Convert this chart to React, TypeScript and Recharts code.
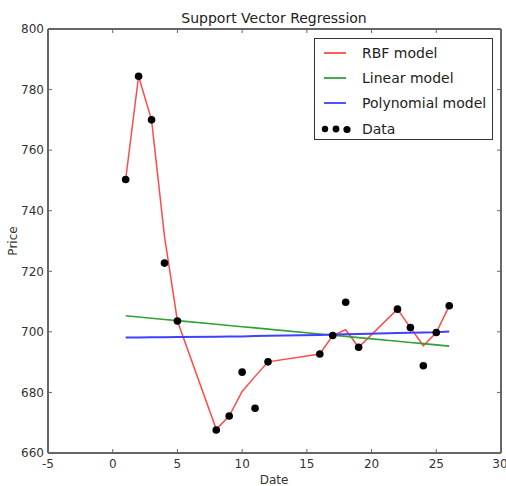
import {
  ComposedChart,
  Line,
  Scatter,
  XAxis,
  YAxis,
  Legend,
} from 'recharts';

// dates (x) and observed prices
const dates = [1, 2, 3, 4, 5, 8, 9, 10, 11, 12, 16, 17, 18, 19, 22, 23, 24, 25, 26];
const prices = [
  750.3, 784.4, 770.0, 722.7, 703.6, 667.6, 672.2, 686.7, 674.8, 690.1,
  692.7, 698.8, 709.8, 694.9, 707.5, 701.4, 688.8, 699.8, 708.6,
];
// model predictions at each date
const rbfModel = [
  750.3, 784.4, 770.0, 731.5, 703.6, 667.8, 672.2, 680.3, 685.3, 690.1,
  692.7, 698.8, 700.7, 694.9, 707.5, 701.4, 695.4, 699.8, 708.6,
];
const linearModel = [
  705.3, 704.9, 704.5, 704.1, 703.7, 702.5, 702.1, 701.7, 701.3, 700.9,
  699.3, 698.9, 698.5, 698.1, 696.9, 696.5, 696.1, 695.7, 695.3,
];
const polyModel = [
  698.1, 698.1, 698.2, 698.2, 698.3, 698.4, 698.5, 698.5, 698.6, 698.7,
  699.0, 699.1, 699.2, 699.3, 699.6, 699.7, 699.8, 699.9, 700.1,
];

const xTicks = [-5, 0, 5, 10, 15, 20, 25, 30];
const yTicks = [660, 680, 700, 720, 740, 760, 780, 800];

const legendItems = [
  { label: 'RBF model', color: '#ff4a4a' },
  { label: 'Linear model', color: '#33a033' },
  { label: 'Polynomial model', color: '#4040ff' },
];

const data = dates.map((d, i) => ({
  date: d,
  price: prices[i],
  rbf: rbfModel[i],
  linear: linearModel[i],
  poly: polyModel[i],
}));

const FONT = '"DejaVu Sans", sans-serif';
const FRAME = '#666';
const tickStyle = { fill: '#333', fontSize: 12, fontFamily: FONT };

function Dot(props: any) {
  const { cx, cy } = props;
  return <circle cx={cx} cy={cy} r={3.8} fill="#000" />;
}

function LegendBox() {
  return (
    <div
      style={{
        width: 179,
        height: 102,
        boxSizing: 'border-box',
        border: '1.3px solid #333',
        background: '#fff',
        paddingTop: 1,
        fontFamily: FONT,
        fontSize: 14,
        color: '#222',
      }}
    >
      {legendItems.map((it) => (
        <div key={it.label} style={{ height: 25.3, display: 'flex', alignItems: 'center' }}>
          <svg width={47} height={10} style={{ flex: 'none' }}>
            <line x1={9} x2={31} y1={5} y2={5} stroke={it.color} strokeWidth={1.8} />
          </svg>
          <span>{it.label}</span>
        </div>
      ))}
      <div style={{ height: 25.3, display: 'flex', alignItems: 'center' }}>
        <svg width={47} height={10} style={{ flex: 'none' }}>
          <circle cx={10} cy={5} r={3.2} fill="#000" />
          <circle cx={21} cy={5} r={3.4} fill="#000" />
          <circle cx={32} cy={5.5} r={3.6} fill="#000" />
        </svg>
        <span>Data</span>
      </div>
    </div>
  );
}

export default function App() {
  return (
    <div style={{ position: 'absolute', left: 0, top: 0, width: 506, height: 486, background: '#fff' }}>
      <div
        style={{
          position: 'absolute',
          left: 48,
          width: 452,
          top: 9,
          textAlign: 'center',
          fontFamily: FONT,
          fontSize: 14,
          color: '#222',
          lineHeight: '18px',
        }}
      >
        Support Vector Regression
      </div>
      <ComposedChart
        width={506}
        height={486}
        data={data}
        margin={{ top: 29, right: 5, bottom: 0, left: 0 }}
      >
        <XAxis
          xAxisId="x"
          type="number"
          dataKey="date"
          domain={[-5, 30]}
          allowDataOverflow
          ticks={xTicks}
          height={33}
          tickSize={-4}
          tickMargin={10}
          tick={tickStyle}
          axisLine={{ stroke: FRAME, strokeWidth: 2 }}
          tickLine={{ stroke: FRAME }}
          label={() => (
            <text x={274} y={480} textAnchor="middle" dominantBaseline="central" fill="#333" fontSize={12} fontFamily={FONT}>
              Date
            </text>
          )}
        />
        <XAxis
          xAxisId="top"
          orientation="top"
          type="number"
          dataKey="date"
          domain={[-5, 30]}
          allowDataOverflow
          ticks={xTicks}
          height={1}
          mirror
          tickSize={4}
          tickFormatter={() => ''}
          axisLine={{ stroke: FRAME, strokeWidth: 2 }}
          tickLine={{ stroke: FRAME }}
        />
        <YAxis
          yAxisId="y"
          type="number"
          domain={[660, 800]}
          allowDataOverflow
          ticks={yTicks}
          width={48}
          tickSize={-4}
          tickMargin={8}
          tick={tickStyle}
          axisLine={{ stroke: FRAME, strokeWidth: 2 }}
          tickLine={{ stroke: FRAME }}
          label={() => (
            <text x={13} y={241} transform="rotate(-90 13 241)" textAnchor="middle" dominantBaseline="central" fill="#333" fontSize={12} fontFamily={FONT}>
              Price
            </text>
          )}
        />
        <YAxis
          yAxisId="right"
          orientation="right"
          type="number"
          domain={[660, 800]}
          allowDataOverflow
          ticks={yTicks}
          width={1}
          mirror
          tickSize={4}
          tickFormatter={() => ''}
          axisLine={{ stroke: FRAME, strokeWidth: 2 }}
          tickLine={{ stroke: FRAME }}
        />
        <Legend
          layout="horizontal"
          verticalAlign="middle"
          align="center"
          content={() => <LegendBox />}
          wrapperStyle={{ position: 'absolute', left: 314, top: 38, width: 179, height: 102 }}
        />
        <Line
          xAxisId="x"
          yAxisId="y"
          type="linear"
          dataKey="rbf"
          stroke={legendItems[0].color}
          strokeWidth={1.5}
          dot={false}
          isAnimationActive={false}
        />
        <Line
          xAxisId="x"
          yAxisId="y"
          type="linear"
          dataKey="linear"
          stroke={legendItems[1].color}
          strokeWidth={1.6}
          dot={false}
          isAnimationActive={false}
        />
        <Line
          xAxisId="x"
          yAxisId="y"
          type="linear"
          dataKey="poly"
          stroke={legendItems[2].color}
          strokeWidth={2}
          dot={false}
          isAnimationActive={false}
        />
        <Scatter
          xAxisId="x"
          yAxisId="y"
          dataKey="price"
          fill="#000"
          shape={<Dot />}
          isAnimationActive={false}
        />
      </ComposedChart>
    </div>
  );
}
